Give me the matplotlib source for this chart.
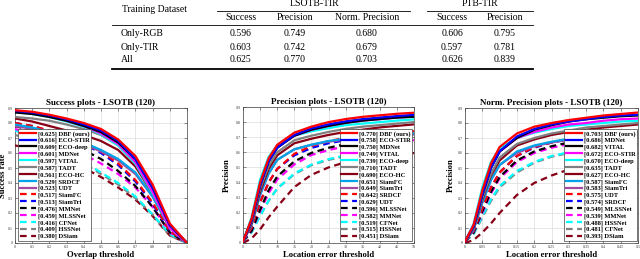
import matplotlib
matplotlib.use("Agg")
import matplotlib.pyplot as plt
from matplotlib.lines import Line2D

plt.rcParams['font.family'] = ['Liberation Serif', 'DejaVu Serif']

# ---- table data ----
tbl_rows = ['Only-RGB', 'Only-TIR', 'All']
tbl_cols = ['Success', 'Precision', 'Norm. Precision', 'Success', 'Precision']
tbl_vals = [[0.596, 0.749, 0.680, 0.606, 0.795],
            [0.603, 0.742, 0.679, 0.597, 0.781],
            [0.625, 0.770, 0.703, 0.626, 0.839]]

# ---- line colours by rank (MATLAB OTB toolkit style) ----
rank_colors = ['#ff0000', '#0000ff', '#000000', '#ff00ff', '#00ffff',
               '#808080', '#880015', '#00a2e8', '#a349a4']

# ---- success plot ----
succ_x = [0.0, 0.1, 0.2, 0.3, 0.4, 0.5, 0.6, 0.7, 0.8, 0.9, 1.0]
succ_names = ['DBF (ours)', 'ECO-STIR', 'ECO-deep', 'MDNet', 'VITAL', 'TADT', 'ECO-HC',
              'SRDCF', 'UDT', 'SiamFC', 'SiamTri', 'MMNet', 'MLSSNet', 'CFNet',
              'HSSNet', 'DSiam']
succ_scores = [0.625, 0.616, 0.609, 0.601, 0.597, 0.587, 0.561, 0.529, 0.523,
               0.517, 0.513, 0.476, 0.459, 0.416, 0.409, 0.380]
succ_curves = [
    [0.885, 0.875, 0.855, 0.83, 0.80, 0.76, 0.69, 0.58, 0.39, 0.13, 0.0],
    [0.88, 0.87, 0.85, 0.825, 0.79, 0.75, 0.68, 0.56, 0.37, 0.12, 0.0],
    [0.87, 0.86, 0.84, 0.815, 0.78, 0.74, 0.67, 0.56, 0.37, 0.12, 0.0],
    [0.88, 0.865, 0.845, 0.815, 0.78, 0.73, 0.66, 0.54, 0.34, 0.10, 0.0],
    [0.875, 0.86, 0.84, 0.81, 0.775, 0.725, 0.65, 0.53, 0.33, 0.10, 0.0],
    [0.84, 0.83, 0.815, 0.79, 0.76, 0.72, 0.65, 0.53, 0.35, 0.11, 0.0],
    [0.83, 0.81, 0.78, 0.75, 0.72, 0.68, 0.62, 0.51, 0.33, 0.10, 0.0],
    [0.79, 0.77, 0.74, 0.71, 0.67, 0.62, 0.56, 0.47, 0.31, 0.10, 0.0],
    [0.78, 0.76, 0.73, 0.70, 0.66, 0.61, 0.55, 0.46, 0.31, 0.10, 0.0],
    [0.80, 0.78, 0.75, 0.71, 0.67, 0.61, 0.53, 0.42, 0.27, 0.08, 0.0],
    [0.80, 0.78, 0.745, 0.70, 0.66, 0.60, 0.52, 0.41, 0.26, 0.08, 0.0],
    [0.78, 0.75, 0.71, 0.67, 0.62, 0.56, 0.48, 0.38, 0.24, 0.07, 0.0],
    [0.76, 0.73, 0.69, 0.64, 0.59, 0.53, 0.46, 0.37, 0.24, 0.07, 0.0],
    [0.75, 0.71, 0.66, 0.60, 0.54, 0.47, 0.40, 0.31, 0.19, 0.06, 0.0],
    [0.72, 0.69, 0.64, 0.59, 0.53, 0.46, 0.39, 0.30, 0.19, 0.05, 0.0],
    [0.65, 0.63, 0.59, 0.55, 0.50, 0.44, 0.37, 0.29, 0.18, 0.05, 0.0],
]

# ---- precision plot ----
prec_x = [0, 2.5, 5, 7.5, 10, 15, 20, 25, 30, 35, 40, 45, 50]
prec_names = ['DBF (ours)', 'ECO-STIR', 'MDNet', 'VITAL', 'ECO-deep', 'TADT', 'ECO-HC',
              'SiamFC', 'SiamTri', 'SRDCF', 'UDT', 'MLSSNet', 'MMNet', 'CFNet',
              'HSSNet', 'DSiam']
prec_scores = [0.770, 0.758, 0.750, 0.749, 0.739, 0.710, 0.690, 0.651, 0.649,
               0.642, 0.629, 0.596, 0.582, 0.519, 0.515, 0.451]
prec_curves = [
    [0.01, 0.16, 0.40, 0.56, 0.65, 0.73, 0.770, 0.80, 0.82, 0.835, 0.845, 0.855, 0.862],
    [0.01, 0.15, 0.38, 0.54, 0.63, 0.715, 0.758, 0.785, 0.805, 0.82, 0.83, 0.84, 0.848],
    [0.01, 0.15, 0.38, 0.54, 0.63, 0.71, 0.750, 0.775, 0.795, 0.81, 0.82, 0.83, 0.835],
    [0.01, 0.15, 0.39, 0.55, 0.635, 0.71, 0.749, 0.775, 0.795, 0.81, 0.82, 0.83, 0.838],
    [0.01, 0.17, 0.42, 0.57, 0.645, 0.71, 0.739, 0.76, 0.78, 0.79, 0.80, 0.81, 0.818],
    [0.01, 0.14, 0.36, 0.51, 0.60, 0.68, 0.710, 0.735, 0.755, 0.77, 0.78, 0.79, 0.80],
    [0.01, 0.13, 0.34, 0.49, 0.58, 0.66, 0.690, 0.715, 0.735, 0.75, 0.765, 0.775, 0.785],
    [0.01, 0.12, 0.32, 0.46, 0.55, 0.62, 0.651, 0.675, 0.69, 0.70, 0.71, 0.72, 0.725],
    [0.01, 0.12, 0.32, 0.46, 0.55, 0.62, 0.649, 0.67, 0.685, 0.70, 0.71, 0.715, 0.72],
    [0.01, 0.10, 0.27, 0.40, 0.49, 0.59, 0.642, 0.675, 0.695, 0.71, 0.72, 0.73, 0.74],
    [0.01, 0.10, 0.27, 0.40, 0.49, 0.58, 0.629, 0.66, 0.68, 0.695, 0.705, 0.715, 0.72],
    [0.01, 0.08, 0.22, 0.35, 0.44, 0.54, 0.596, 0.63, 0.655, 0.67, 0.68, 0.69, 0.70],
    [0.01, 0.08, 0.21, 0.33, 0.42, 0.52, 0.582, 0.615, 0.64, 0.655, 0.665, 0.675, 0.68],
    [0.01, 0.07, 0.18, 0.28, 0.36, 0.46, 0.519, 0.555, 0.58, 0.60, 0.615, 0.625, 0.635],
    [0.01, 0.07, 0.18, 0.28, 0.36, 0.455, 0.515, 0.55, 0.575, 0.595, 0.61, 0.62, 0.63],
    [0.0, 0.03, 0.09, 0.17, 0.24, 0.37, 0.451, 0.50, 0.535, 0.56, 0.575, 0.585, 0.595],
]

# ---- normalized precision plot ----
norm_x = [0, 0.025, 0.05, 0.075, 0.1, 0.15, 0.2, 0.25, 0.3, 0.35, 0.4, 0.45, 0.5]
norm_names = ['DBF (ours)', 'MDNet', 'VITAL', 'ECO-STIR', 'ECO-deep', 'TADT', 'ECO-HC',
              'SiamFC', 'SiamTri', 'UDT', 'SRDCF', 'MLSSNet', 'MMNet', 'HSSNet',
              'CFNet', 'DSiam']
norm_scores = [0.703, 0.686, 0.682, 0.672, 0.670, 0.635, 0.627, 0.587, 0.583,
               0.575, 0.574, 0.549, 0.539, 0.488, 0.481, 0.393]
norm_curves = [
    [0.01, 0.12, 0.35, 0.53, 0.64, 0.73, 0.775, 0.80, 0.82, 0.835, 0.85, 0.86, 0.87],
    [0.01, 0.11, 0.32, 0.50, 0.61, 0.71, 0.76, 0.79, 0.81, 0.825, 0.84, 0.85, 0.855],
    [0.01, 0.11, 0.32, 0.50, 0.61, 0.70, 0.755, 0.785, 0.81, 0.825, 0.835, 0.845, 0.85],
    [0.01, 0.12, 0.34, 0.51, 0.61, 0.70, 0.74, 0.77, 0.79, 0.80, 0.815, 0.825, 0.83],
    [0.01, 0.13, 0.37, 0.54, 0.63, 0.70, 0.735, 0.76, 0.78, 0.79, 0.80, 0.81, 0.815],
    [0.01, 0.10, 0.30, 0.46, 0.57, 0.66, 0.70, 0.73, 0.75, 0.77, 0.78, 0.79, 0.80],
    [0.01, 0.10, 0.29, 0.45, 0.55, 0.65, 0.69, 0.72, 0.74, 0.755, 0.77, 0.78, 0.79],
    [0.01, 0.09, 0.27, 0.42, 0.52, 0.61, 0.65, 0.675, 0.695, 0.71, 0.72, 0.73, 0.735],
    [0.01, 0.09, 0.27, 0.42, 0.52, 0.60, 0.645, 0.67, 0.69, 0.705, 0.715, 0.725, 0.73],
    [0.01, 0.08, 0.23, 0.37, 0.47, 0.58, 0.64, 0.67, 0.695, 0.71, 0.72, 0.73, 0.74],
    [0.01, 0.08, 0.23, 0.37, 0.47, 0.58, 0.635, 0.67, 0.69, 0.705, 0.72, 0.73, 0.735],
    [0.01, 0.07, 0.21, 0.34, 0.44, 0.55, 0.61, 0.645, 0.67, 0.685, 0.70, 0.71, 0.715],
    [0.01, 0.07, 0.20, 0.33, 0.43, 0.54, 0.60, 0.635, 0.66, 0.675, 0.69, 0.70, 0.705],
    [0.01, 0.06, 0.18, 0.29, 0.38, 0.48, 0.54, 0.58, 0.605, 0.625, 0.64, 0.65, 0.66],
    [0.01, 0.06, 0.17, 0.28, 0.37, 0.47, 0.535, 0.575, 0.60, 0.62, 0.635, 0.645, 0.655],
    [0.0, 0.02, 0.07, 0.13, 0.20, 0.32, 0.40, 0.45, 0.49, 0.515, 0.535, 0.55, 0.56],
]

fig = plt.figure(figsize=(6.4, 2.59), dpi=100)
W, H = 640.0, 259.0


def fx(px):
    return px / W


def fy(py):
    return 1 - py / H


# ---------------- table ----------------
tfs = 7
def hline(x0, x1, y, lw=0.6):
    fig.add_artist(Line2D([fx(x0), fx(x1)], [fy(y), fy(y)], color='k', lw=lw))

fig.text(fx(155), fy(10), 'Training Dataset', ha='center', va='center', fontsize=tfs)
fig.text(fx(314), fy(3), 'LSOTB-TIR', ha='center', va='center', fontsize=tfs)
fig.text(fx(480), fy(3), 'PTB-TIR', ha='center', va='center', fontsize=tfs)
hline(217, 410, 11)
hline(427, 533, 11)
col_x = [241, 295, 367, 452, 505]
for cx, cname in zip(col_x, tbl_cols):
    fig.text(fx(cx), fy(17), cname, ha='center', va='center', fontsize=tfs)
hline(112, 533, 25)
row_y = [34, 47, 60]
for ry, rname, vals in zip(row_y, tbl_rows, tbl_vals):
    fig.text(fx(121), fy(ry), rname, ha='left', va='center', fontsize=tfs)
    for cx, v in zip(col_x, vals):
        fig.text(fx(cx), fy(ry), '%.3f' % v, ha='center', va='center', fontsize=tfs)
hline(112, 533, 69, lw=1.3)


# ---------------- plots ----------------
def draw(rect, xs, names, scores, curves, title, xlabel, ylabel, xmax, xticks,
         leg_loc, leg_anchor, ylab_x):
    ax = fig.add_axes(rect)
    lines = []
    for i in range(len(names)):
        if i < 9:
            c, ls = rank_colors[i], '-'
        else:
            c, ls = rank_colors[i - 9], '--'
        ln, = ax.plot(xs, curves[i], color=c, lw=1.6, ls=ls,
                      label='[%.3f] %s' % (scores[i], names[i]),
                      zorder=3 + len(names) - i)
        if ls == '--':
            ln.set_dashes((3, 2))
        lines.append(ln)
    ax.set_xlim(0, xmax)
    ax.set_ylim(0, 0.9)
    ax.set_xticks(xticks)
    ax.set_xticklabels(['%g' % t for t in xticks])
    yt = [0, 0.1, 0.2, 0.3, 0.4, 0.5, 0.6, 0.7, 0.8, 0.9]
    ax.set_yticks(yt)
    ax.set_yticklabels(['%g' % t for t in yt])
    ax.tick_params(direction='in', length=2, width=0.4, labelsize=3, pad=1.5,
                   colors='#404040', top=True, right=True)
    ax.grid(True, color='#dcdcdc', lw=0.5, ls='-')
    ax.set_axisbelow(True)
    for s in ax.spines.values():
        s.set_linewidth(0.5)
        s.set_color('#404040')
    ax.set_title(title, fontsize=6.5, fontweight='bold', pad=2.5)
    ax.set_xlabel(xlabel, fontsize=6.2, fontweight='bold', labelpad=1.5)
    ax.set_ylabel(ylabel, fontsize=6.2, fontweight='bold')
    ax.yaxis.set_label_coords(ylab_x, 0.5)
    leg = ax.legend(handles=lines, loc=leg_loc, bbox_to_anchor=leg_anchor,
                    labelspacing=0.12, handlelength=2.4,
                    handletextpad=0.3, borderpad=0.25, borderaxespad=0,
                    fancybox=False, framealpha=1, edgecolor='#404040',
                    prop={'weight': 'bold', 'size': 4.7})
    leg.get_frame().set_linewidth(0.5)
    leg.set_zorder(30)
    return ax


draw([fx(15), 1 - 243 / H, 172 / W, 135 / H], succ_x, succ_names, succ_scores,
     succ_curves, 'Success plots - LSOTB (120)', 'Overlap threshold', 'Success rate',
     1.0, [0, 0.1, 0.2, 0.3, 0.4, 0.5, 0.6, 0.7, 0.8, 0.9, 1.0],
     'lower left', (0.02, 0.015), -0.045)

draw([fx(243), 1 - 243 / H, 171 / W, 136 / H], prec_x, prec_names, prec_scores,
     prec_curves, 'Precision plots - LSOTB (120)', 'Location error threshold',
     'Precision', 50, [0, 5, 10, 15, 20, 25, 30, 35, 40, 45, 50],
     'lower right', (0.99, 0.015), -0.07)

draw([fx(465), 1 - 243 / H, 173 / W, 135 / H], norm_x, norm_names, norm_scores,
     norm_curves, 'Norm. Precision plots - LSOTB (120)', 'Location error threshold',
     'Precision', 0.5, [0, 0.05, 0.1, 0.15, 0.2, 0.25, 0.3, 0.35, 0.4, 0.45, 0.5],
     'lower right', (0.995, 0.015), -0.06)

fig.savefig('out.png', dpi=100)
